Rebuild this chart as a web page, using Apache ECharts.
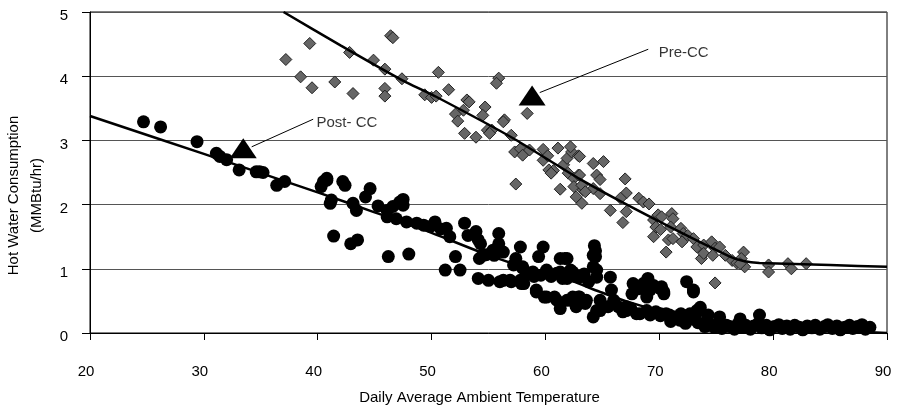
<!DOCTYPE html>
<html>
<head>
<meta charset="utf-8">
<script src="https://cdn.jsdelivr.net/npm/echarts@6/dist/echarts.min.js"></script>
<style>
html, body { margin: 0; padding: 0; background: #fff; }
#chart { width: 897px; height: 408px; }
</style>
</head>
<body>
<div id="chart"></div>
<script>
// Pre-CC readings (temperature, load)
var preTemp = [37.2, 39.3, 38.5, 39.5, 41.5, 42.8, 43.1, 44.9, 45.9, 45.9, 45.9, 46.4, 46.6, 47.4, 49.4, 50.0, 50.4, 50.6, 51.5, 55.9,
  55.7, 53.1, 53.3, 52.8, 52.1, 52.3, 54.7, 54.5, 56.4, 56.3, 52.9, 53.9, 54.9, 55.3, 55.1, 57.0, 58.4, 57.3, 57.8, 58.0,
  58.6, 59.8, 59.8, 61.1, 57.4, 60.3, 60.7, 61.3, 61.6, 61.9, 62.3, 62.9, 62.0, 62.5, 62.9, 62.5, 63.3, 62.7, 63.2, 64.2,
  64.5, 64.2, 63.0, 65.1, 64.8, 63.2, 63.5, 64.8, 65.7, 67.0, 67.1, 66.6, 67.1, 66.8, 68.2, 68.6, 69.1, 69.5, 69.9, 70.2,
  71.1, 71.2, 69.7, 70.1, 69.5, 70.6, 71.0, 71.9, 72.1, 70.8, 71.2, 72.0, 72.5, 73.0, 73.3, 73.9, 74.6, 74.9, 73.7, 73.9,
  74.7, 75.3, 75.8, 76.4, 76.8, 77.4, 77.2, 77.5, 77.1, 74.9, 79.6, 79.6, 81.3, 81.6, 82.9, 63.0, 60.2, 60.5, 62.2];
var preLoad = [4.26, 4.51, 3.99, 3.82, 3.91, 4.37, 3.73, 4.25, 4.11, 3.81, 3.69, 4.63, 4.60, 3.96, 3.71, 3.67, 3.69, 4.06, 3.79, 3.97,
  3.89, 3.63, 3.60, 3.47, 3.41, 3.30, 3.52, 3.39, 3.32, 3.29, 3.11, 3.05, 3.16, 3.16, 3.11, 3.08, 3.42, 2.82, 2.87, 2.77,
  2.85, 2.86, 2.69, 2.88, 2.32, 2.54, 2.53, 2.24, 2.62, 2.72, 2.82, 2.76, 2.49, 2.41, 2.46, 2.28, 2.23, 2.12, 2.02, 2.64,
  2.46, 2.25, 2.75, 2.67, 2.39, 2.30, 2.20, 2.17, 1.91, 2.40, 2.18, 2.10, 1.89, 1.72, 2.10, 2.04, 2.01, 1.76, 1.84, 1.81,
  1.86, 1.78, 1.65, 1.61, 1.50, 1.26, 1.65, 1.63, 1.55, 1.45, 1.47, 1.42, 1.52, 1.47, 1.34, 1.37, 1.42, 1.32, 1.16, 1.24,
  1.21, 1.34, 1.21, 1.13, 1.09, 1.26, 1.16, 1.03, 1.08, 0.78, 1.06, 0.95, 1.08, 1.00, 1.08, 2.46, 2.76, 2.49, 2.90];

// Post-CC readings
var postTemp = [24.7, 26.2, 29.4, 31.1, 31.4, 33.1, 34.6, 34.9, 36.4, 37.1, 40.8, 40.3, 41.2, 41.4, 40.5, 40.8, 42.2, 42.4, 44.6, 47.5,
  41.1, 43.4, 43.1, 42.9, 43.5, 46.2, 48.0, 46.1, 46.6, 47.5, 47.2, 46.1, 46.9, 47.8, 48.7, 49.3, 50.3, 51.3, 51.6, 52.9,
  53.9, 54.3, 52.1, 51.2, 52.5, 54.1, 55.0, 54.5, 54.2, 55.4, 55.9, 55.9, 56.3, 56.0, 56.9, 57.8, 58.1, 57.8, 57.4, 58.0,
  58.9, 59.8, 59.4, 59.2, 60.1, 61.0, 61.3, 60.1, 61.0, 61.7, 62.2, 63.0, 62.2, 62.9, 63.5, 64.2, 64.4, 64.5, 54.1, 54.8,
  55.5, 57.2, 58.0, 56.3, 57.0, 57.9, 59.2, 59.9, 60.8, 62.2, 61.9, 61.3, 61.9, 61.3, 62.4, 64.2, 64.2, 64.5, 61.9, 62.4,
  62.7, 64.5, 64.8, 65.7, 65.8, 66.0, 65.5, 66.4, 67.1, 67.6, 68.0, 68.6, 69.0, 68.9, 69.5, 70.1, 70.4, 68.3, 69.2, 70.1,
  70.6, 72.4, 73.0, 71.5, 72.7, 73.6, 74.2, 67.7, 68.2, 68.9, 69.2, 70.2, 70.4, 73.0, 69.0, 67.1, 68.0, 68.9, 70.1, 71.3,
  71.9, 73.3, 73.6, 73.1, 64.8, 63.6, 63.0, 64.3, 64.4, 71.0, 71.8, 72.3, 72.9, 73.4, 74.0, 74.3, 75.3, 77.1, 78.8,
  74.5, 74.8, 75.2, 75.5, 75.9, 76.2, 76.6, 76.9, 77.3, 77.6, 78.0, 78.3, 78.7, 79.0, 79.4, 79.7, 80.1, 80.5, 80.8, 81.2,
  81.5, 81.9, 82.3, 82.6, 83.0, 83.4, 83.7, 84.1, 84.5, 84.8, 85.2, 85.6, 85.9, 86.3, 86.7, 87.0, 87.4, 87.8, 88.1, 88.5,
  58.5, 59.0, 59.6, 60.5, 61.5, 62.6, 63.4, 63.8, 66.8, 67.5, 69.7, 70.9, 72.2, 49.9, 50.8, 32.0, 35.2, 44.2, 45.3, 53.2];
var postLoad = [3.29, 3.21, 2.98, 2.80, 2.75, 2.54, 2.51, 2.51, 2.30, 2.36, 2.38, 2.28, 2.07, 1.51, 2.36, 2.41, 2.36, 2.30, 2.25, 2.08,
  2.02, 1.91, 2.02, 1.39, 1.45, 1.19, 1.23, 1.91, 1.97, 1.99, 2.04, 1.81, 1.78, 1.73, 1.71, 1.68, 1.73, 1.63, 1.50, 1.71,
  1.58, 1.39, 1.19, 0.98, 0.98, 0.85, 0.82, 1.21, 1.16, 1.29, 1.55, 1.39, 1.26, 0.80, 0.82, 0.82, 0.77, 1.34, 1.16, 1.03,
  0.95, 1.34, 1.19, 0.67, 0.56, 0.51, 0.38, 0.98, 0.93, 1.16, 0.90, 0.87, 0.51, 0.56, 0.46, 0.25, 1.19, 0.98, 1.45, 1.22,
  1.21, 1.06, 1.01, 0.82, 0.80, 0.77, 0.64, 0.56, 0.56, 0.98, 0.85, 1.16, 1.16, 0.95, 0.95, 1.21, 1.03, 0.87, 0.51, 0.56,
  0.41, 0.35, 0.51, 0.87, 0.67, 0.51, 0.41, 0.41, 0.41, 0.61, 0.72, 0.77, 0.82, 0.56, 0.74, 0.69, 0.61, 0.30, 0.28, 0.30,
  0.30, 0.80, 0.67, 0.25, 0.30, 0.35, 0.20, 0.77, 0.69, 0.80, 0.67, 0.72, 0.64, 0.64, 0.85, 0.35, 0.30, 0.35, 0.27, 0.25,
  0.30, 0.35, 0.40, 0.27, 0.35, 0.51, 0.56, 1.36, 1.28, 0.18, 0.20, 0.15, 0.22, 0.16, 0.10, 0.28, 0.25, 0.22, 0.28,
  0.13, 0.09, 0.15, 0.07, 0.12, 0.10, 0.06, 0.14, 0.09, 0.12, 0.06, 0.11, 0.15, 0.08, 0.12, 0.05, 0.10, 0.13, 0.07, 0.11,
  0.06, 0.12, 0.09, 0.05, 0.11, 0.08, 0.12, 0.06, 0.10, 0.13, 0.07, 0.11, 0.05, 0.09, 0.12, 0.07, 0.10, 0.13, 0.06, 0.09,
  0.92, 0.88, 0.90, 0.88, 0.85, 0.88, 0.92, 0.80, 0.33, 0.38, 0.33, 0.28, 0.24, 1.66, 1.62, 2.70, 2.50, 2.12, 1.98, 1.52];

// trend lines
var preFitTemp = [37.0, 42.0, 47.4, 50.4, 57.2, 63.0, 69.3, 76.2, 77.4, 78.8, 85.0, 90.0];
var preFitLoad = [5.00, 4.48, 3.94, 3.68, 3.03, 2.40, 1.80, 1.19, 1.12, 1.09, 1.06, 1.03];
var postFitTemp = [20, 30, 40, 45, 50, 54.3, 57.2, 60, 62.2, 64.8, 67, 70.9, 75, 80, 85, 90];
var postFitLoad = [3.38, 2.79, 2.19, 1.88, 1.56, 1.26, 1.08, 0.95, 0.82, 0.64, 0.50, 0.30, 0.15, 0.07, 0.04, 0.0];

// annotations
var preMarker = [58.83, 3.70];
var preLeader = [[59.5, 3.745], [69.03, 4.42]];
var preText = [69.9, 4.36];
var postMarker = [33.46, 2.877];
var postLeader = [[34.2, 2.90], [39.6, 3.33]];
var postText = [39.85, 3.27];

var xMin = 20, xMax = 90, xStep = 10;
var yMin = 0, yMax = 5, yStep = 1;

function pairs(a, b) {
  return a.map(function (v, i) { return [v, b[i]]; });
}

var font = '"Liberation Sans", Arial, sans-serif';
var chart = echarts.init(document.getElementById('chart'));

chart.setOption({
  animation: false,
  backgroundColor: '#fff',
  textStyle: { fontFamily: font },
  grid: {
    left: 90, right: 10, top: 12, bottom: 75,
    containLabel: false, outerBoundsMode: 'none',
    show: true, borderColor: '#000', borderWidth: 1
  },
  xAxis: {
    type: 'value', min: xMin, max: xMax, interval: xStep,
    name: 'Daily Average Ambient Temperature',
    nameLocation: 'middle', nameGap: 57,
    nameTextStyle: { color: '#000', fontSize: 15, fontFamily: font, padding: [0, 18, 0, 0] },
    axisLine: { lineStyle: { color: '#000', width: 1 } },
    axisTick: { show: true, length: 7, lineStyle: { color: '#000' } },
    axisLabel: { color: '#000', fontSize: 15, fontFamily: font, margin: 31, padding: [0, 8, 0, 0] },
    splitLine: { show: false }
  },
  yAxis: {
    type: 'value', min: yMin, max: yMax, interval: yStep,
    name: 'Hot Water Consumption\n(MMBtu/hr)',
    nameLocation: 'middle', nameRotate: 90, nameGap: 42,
    nameTextStyle: { color: '#000', fontSize: 15, fontFamily: font, lineHeight: 23, padding: [0, 46, 0, 0] },
    axisLine: { show: true, lineStyle: { color: '#000', width: 1 } },
    axisTick: { show: true, length: 8, lineStyle: { color: '#000' } },
    axisLabel: { color: '#000', fontSize: 15, fontFamily: font, margin: 22, verticalAlign: 'top', lineHeight: 8 },
    splitLine: { show: true, lineStyle: { color: '#555', width: 1 } }
  },
  series: [
    {
      name: 'Post-CC', type: 'scatter', z: 2,
      symbol: 'circle', symbolSize: 13,
      itemStyle: { color: '#000', opacity: 1 },
      data: pairs(postTemp, postLoad)
    },
    {
      name: 'Pre-CC', type: 'scatter', z: 3,
      symbol: 'diamond', symbolSize: 12,
      itemStyle: { color: '#666', borderColor: '#222', borderWidth: 1, opacity: 1 },
      data: pairs(preTemp, preLoad)
    },
    {
      name: 'Post-CC fit', type: 'line', z: 4, smooth: 0.3,
      symbol: 'none', lineStyle: { color: '#000', width: 2.5 },
      data: pairs(postFitTemp, postFitLoad)
    },
    {
      name: 'Pre-CC fit', type: 'line', z: 4, smooth: 0.15,
      symbol: 'none', lineStyle: { color: '#000', width: 2.5 },
      data: pairs(preFitTemp, preFitLoad)
    },
    {
      type: 'line', z: 5, symbol: 'none',
      lineStyle: { color: '#000', width: 1 },
      data: preLeader
    },
    {
      type: 'line', z: 5, symbol: 'none',
      lineStyle: { color: '#000', width: 1 },
      data: postLeader
    },
    {
      type: 'scatter', z: 6, symbol: 'triangle', symbolSize: [27, 20],
      itemStyle: { color: '#000', opacity: 1 },
      data: [preMarker, postMarker]
    },
    {
      type: 'scatter', z: 6, symbolSize: 1,
      itemStyle: { color: 'rgba(0,0,0,0)' },
      label: {
        show: true, position: 'right', distance: 0,
        color: '#000', fontSize: 15, fontFamily: font,
        formatter: function (p) { return p.dataIndex === 0 ? 'Pre-CC' : 'Post- CC'; }
      },
      data: [preText, postText]
    }
  ]
});
</script>
</body>
</html>
